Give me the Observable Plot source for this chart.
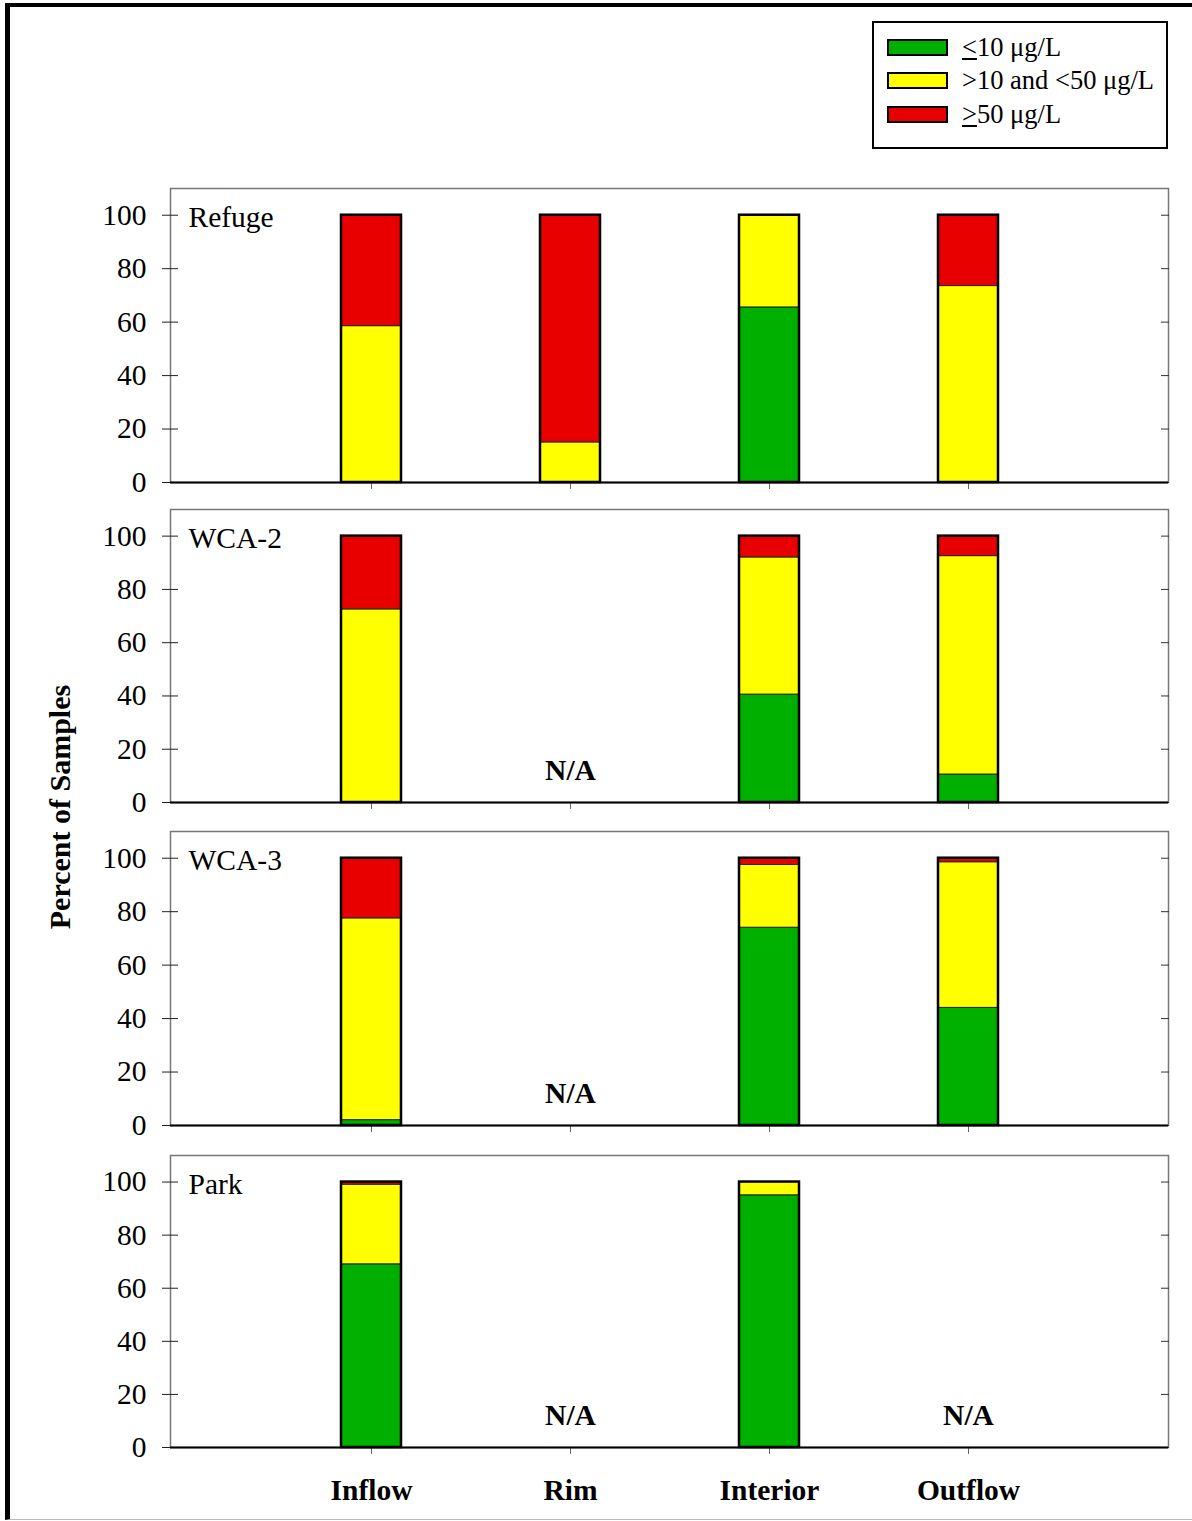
<!DOCTYPE html>
<html>
<head>
<meta charset="utf-8">
<script src="https://cdn.jsdelivr.net/npm/d3@7"></script>
<script src="https://cdn.jsdelivr.net/npm/@observablehq/plot@0.6"></script>
<style>
  html, body { margin: 0; padding: 0; background: #fff; }
  #page { position: relative; width: 1192px; height: 1521px; overflow: hidden; font-family: "Liberation Serif", "Times New Roman", serif; color: #000; }
  #border { position: absolute; left: 5px; top: 3px; right: -10px; bottom: 1px; border-left: 5px solid #000; border-top: 4px solid #000; border-bottom: 1px solid #bbb; }
  .panel { position: absolute; left: 0; }
  #legend { position: absolute; left: 872px; top: 21px; width: 292px; height: 124px; border: 2px solid #000; background: #fff; }
  .lrow { position: absolute; left: 13px; height: 30px; display: flex; align-items: center; font-size: 26.5px; white-space: nowrap; }
  .sw { width: 57px; height: 13px; border: 2px solid #000; margin-right: 14px; }
  #ylabel { position: absolute; left: 60px; top: 807px; transform: translate(-50%, -50%) rotate(-90deg); font-weight: bold; font-size: 30px; white-space: nowrap; }
</style>
</head>
<body>
<div id="page">
  <div id="border"></div>
  <div id="legend"></div>
  <div id="ylabel">Percent of Samples</div>
</div>
<script>
// ---- data ----
const regions = ["Refuge", "WCA-2", "WCA-3", "Park"];
const sites = ["Inflow", "Rim", "Interior", "Outflow"];
const classes = ["≤10 μg/L", ">10 and <50 μg/L", "≥50 μg/L"];
const legendHtml = ["<u>&lt;</u>10 μg/L", "&gt;10 and &lt;50 μg/L", "<u>&gt;</u>50 μg/L"];
const colors = ["#00b000", "#ffff00", "#e80000"];
// percent of samples per region (rows) and site (columns); null = N/A
const pctLow  = [[0, 0, 65.5, 0], [0, null, 40.5, 10.5], [2, null, 74, 44], [69, null, 95, null]];
const pctMid  = [[58.5, 15, 34.5, 73.5], [72.5, null, 51.5, 82], [75.5, null, 23.5, 54.5], [30, null, 5, null]];
const pctHigh = [[41.5, 85, 0, 26.5], [27.5, null, 8, 7.5], [22.5, null, 2.5, 1.5], [1, null, 0, null]];
const yTicks = [0, 20, 40, 60, 80, 100];

// ---- layout ----
const frameTop = [188, 509, 831, 1155];
const frameBottom = [482, 802, 1125, 1447];

const page = document.getElementById("page");

// legend
const legend = document.getElementById("legend");
[24, 57, 91].forEach((mid, i) => {
  const row = document.createElement("div");
  row.className = "lrow";
  row.style.top = (mid - 15) + "px";
  row.innerHTML = `<div class="sw" style="background:${colors[i]}"></div><span>${legendHtml[i]}</span>`;
  legend.appendChild(row);
});

regions.forEach((region, r) => {
  const segs = [];
  const totals = [];
  const na = [];
  sites.forEach((site, s) => {
    const vals = [pctLow[r][s], pctMid[r][s], pctHigh[r][s]];
    if (vals[0] == null) { na.push({site}); return; }
    let acc = 0;
    vals.forEach((v, k) => {
      if (v > 0) segs.push({site, cls: classes[k], y1: acc, y2: acc + v});
      acc += v;
    });
    totals.push({site, total: acc});
  });

  const last = r === regions.length - 1;
  const mt = 10, mb = last ? 70 : 20;
  const h = mt + (frameBottom[r] - frameTop[r]) + mb;

  const chart = Plot.plot({
    width: 1192,
    height: h,
    marginLeft: 170,
    marginRight: 24,
    marginTop: mt,
    marginBottom: mb,
    style: {fontFamily: "'Liberation Serif', 'Times New Roman', serif", fontSize: "29.5px", background: "transparent", color: "#000", overflow: "visible"},
    x: {type: "band", domain: sites, paddingInner: 0.7, paddingOuter: 0.85, align: 0.5, label: null},
    y: {domain: [0, 110], label: null},
    color: {domain: classes, range: colors},
    marks: [
      Plot.frame({stroke: "#777", strokeWidth: 1.5}),
      Plot.axisY({anchor: "left", ticks: yTicks, tickSize: 8, tickPadding: 16, stroke: "#222", label: null}),
      Plot.axisY({anchor: "left", ticks: yTicks, tickSize: -8, tickFormat: () => "", stroke: "#222", label: null}),
      Plot.axisY({anchor: "right", ticks: yTicks, tickSize: -8, tickFormat: () => "", stroke: "#333", label: null}),
      Plot.axisX({anchor: "bottom", tickSize: 7, tickPadding: 25, stroke: "#666", fontWeight: "bold",
                  tickFormat: last ? (d => d) : (() => ""), label: null}),
      Plot.barY(segs, {x: "site", y1: "y1", y2: "y2", fill: "cls", stroke: "#222", strokeWidth: 1}),
      Plot.barY(totals, {x: "site", y1: 0, y2: "total", fill: "none", stroke: "#000", strokeWidth: 2.5}),
      Plot.ruleY([0], {stroke: "#000", strokeWidth: 2}),
      Plot.text(na, {x: "site", y: 12, text: () => "N/A", fontWeight: "bold", fontSize: 29.5}),
      Plot.text([region], {frameAnchor: "top-left", dx: 18, dy: 29, text: d => d, textAnchor: "start", lineAnchor: "middle", fontSize: 29.5})
    ]
  });
  const wrap = document.createElement("div");
  wrap.className = "panel";
  wrap.style.top = (frameTop[r] - mt) + "px";
  wrap.appendChild(chart);
  page.appendChild(wrap);
});
</script>
</body>
</html>
